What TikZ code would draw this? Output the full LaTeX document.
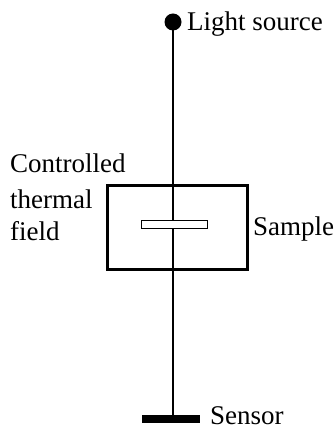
\documentclass[tikz,border=0pt]{standalone}
\usepackage{fontspec}
\setmainfont{Liberation Serif}
\begin{document}
\begin{tikzpicture}[x=1pt,y=-1pt,
  lbl/.style={inner sep=0pt, font=\fontsize{27}{33}\selectfont, anchor=base west},
  beam/.style={line width=2.5pt},
  chamberbox/.style={draw, line width=3pt, minimum width=140pt, minimum height=83pt, inner sep=0pt},
  samplebox/.style={draw, line width=1pt, fill=white, minimum width=66pt, minimum height=8pt, inner sep=0pt},
  sensorbar/.style={fill=black, minimum width=58pt, minimum height=8pt, inner sep=0pt},
  sourcedot/.style={circle, fill=black, minimum size=17pt, inner sep=0pt}]
\useasboundingbox (0,0) rectangle (336,430);
\node[sourcedot] (src) at (173,22) {};
\node[sensorbar] (sensor) at (170.5,419) {};
\node[chamberbox] (chamber) at (177,227.5) {};
\draw[beam] (src.center) -- (src.center |- sensor.north);
\node[samplebox] (sample) at (174,224) {};
\node[lbl] (lsrc) at (187,30.7) {Light source};
\node[lbl] (lsample) at (253,235) {Sample};
\node[lbl] (lsensor) at (210,424) {Sensor};
\node[lbl] (ctf1) at (10,173) {Controlled};
\node[lbl] (ctf2) at (10,208) {thermal};
\node[lbl] (ctf3) at (10,240) {field};
\end{tikzpicture}
\end{document}
